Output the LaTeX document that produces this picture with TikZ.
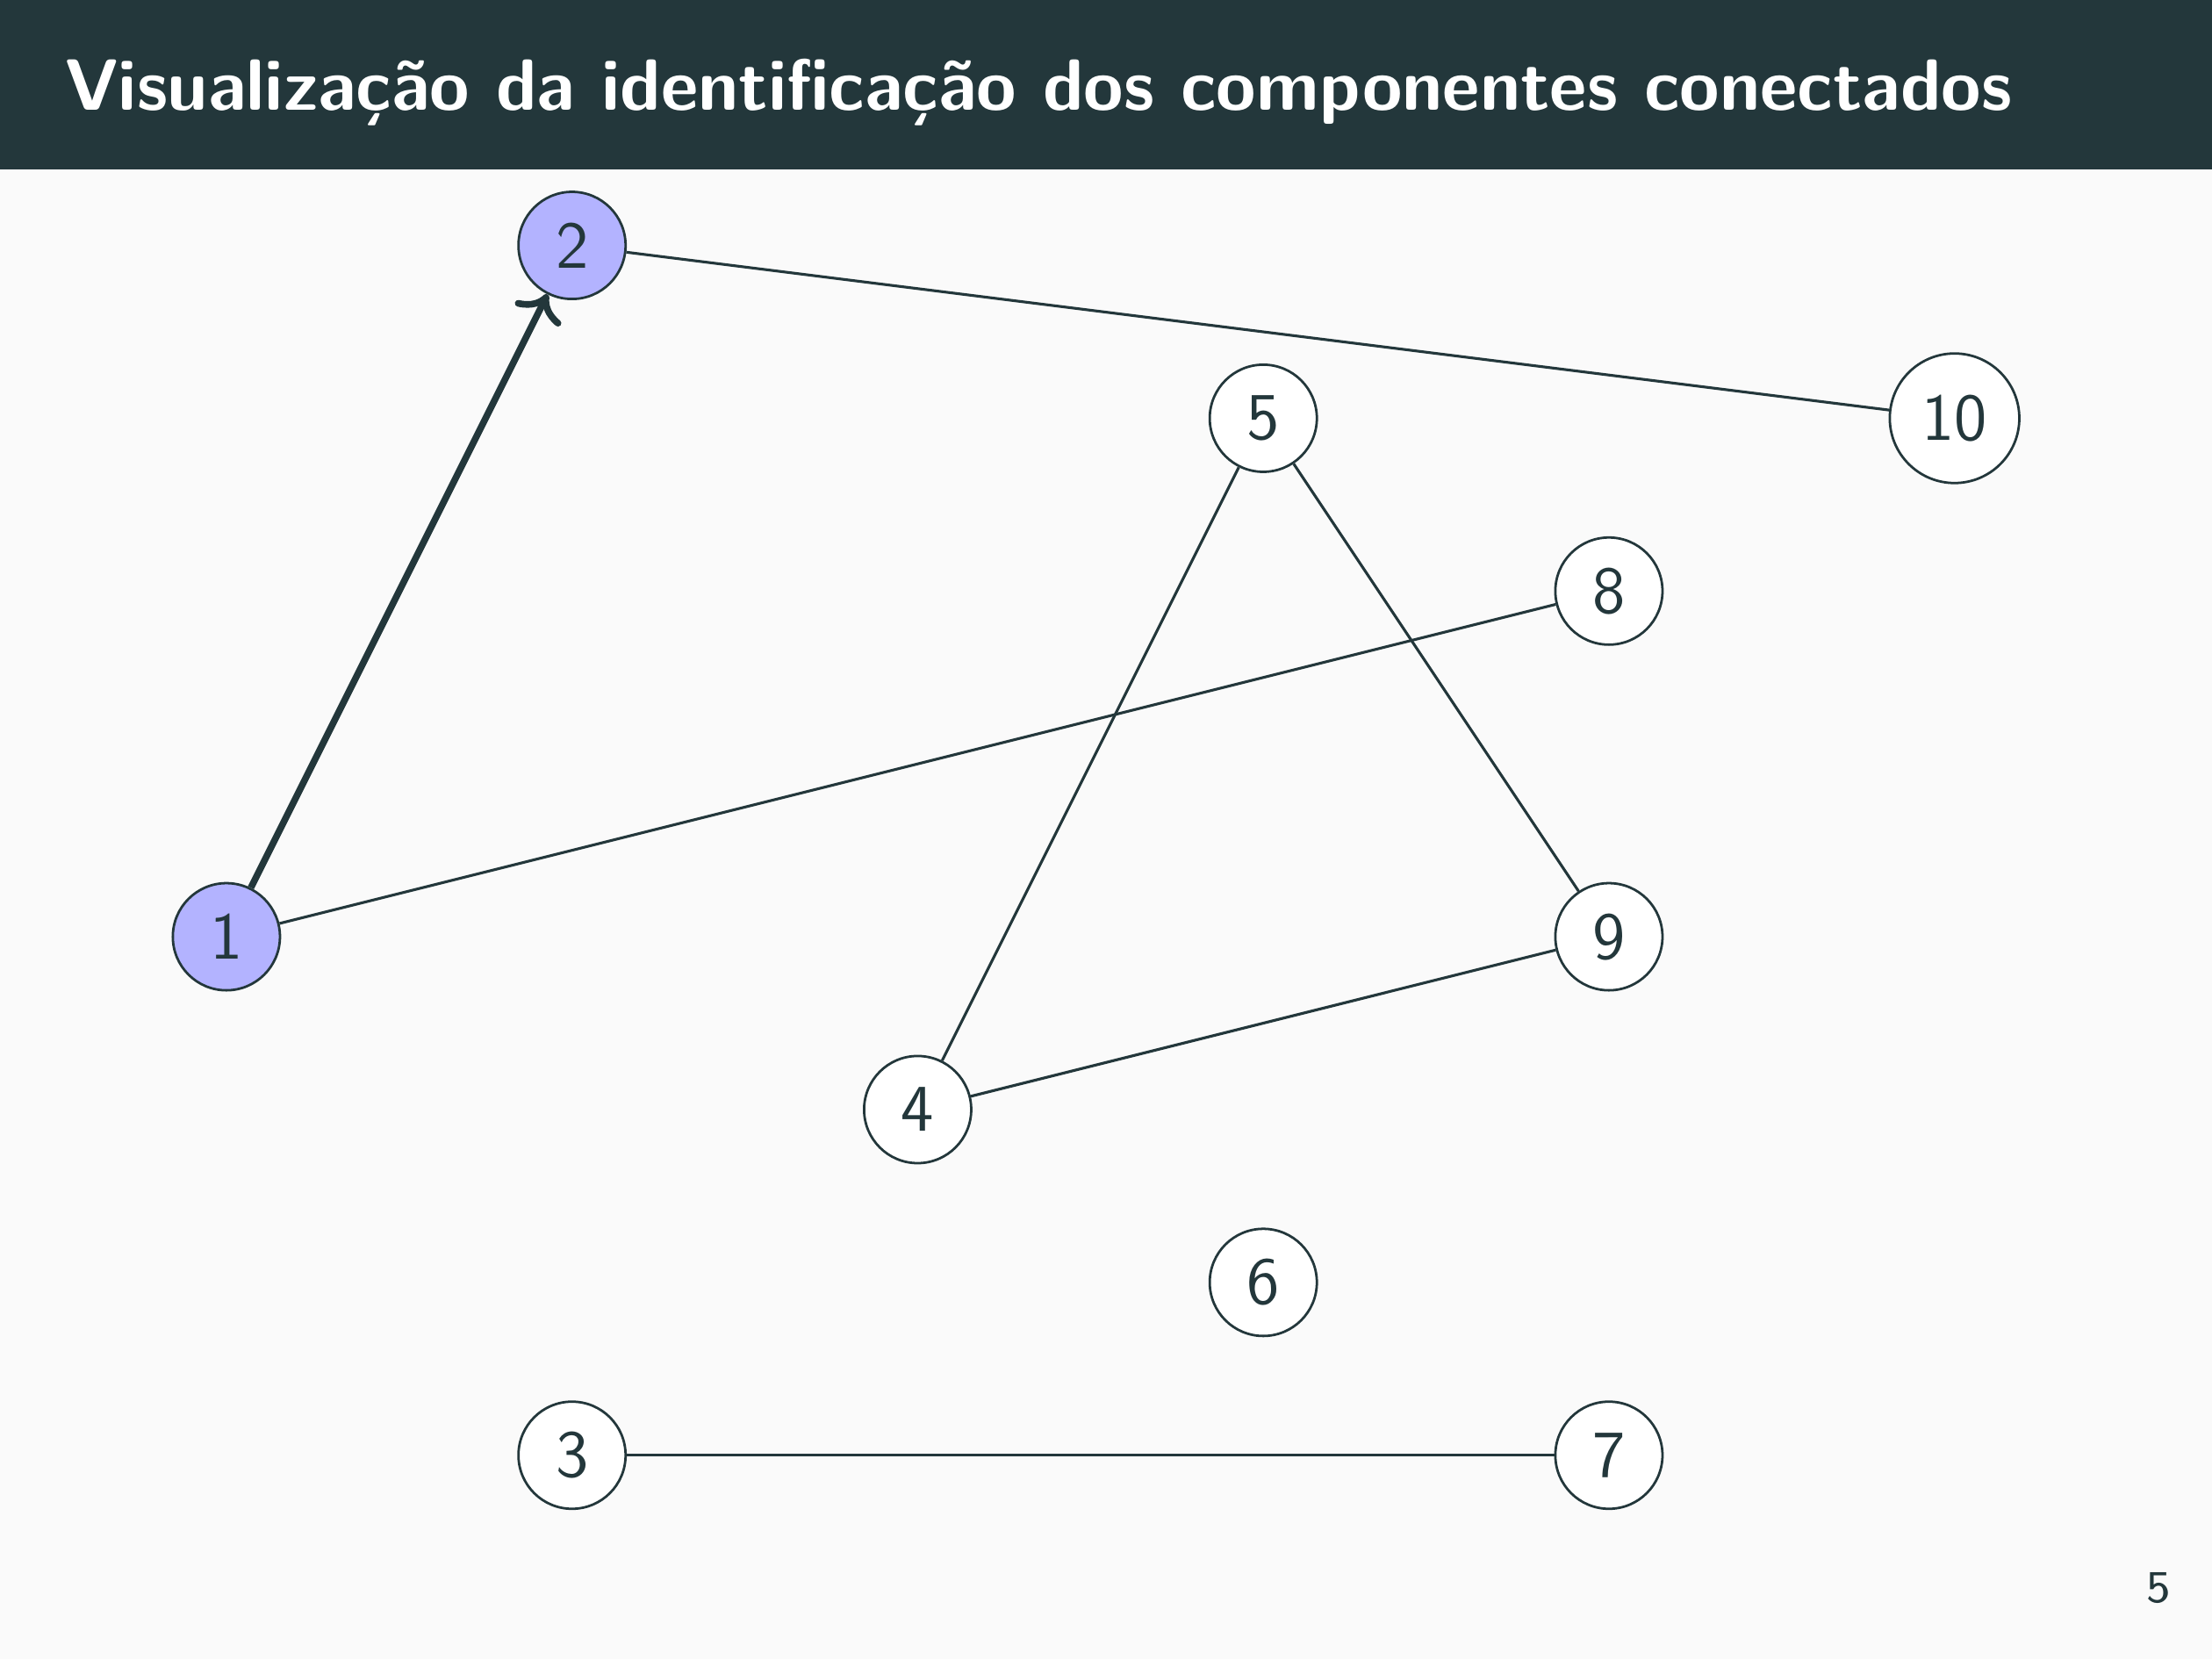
\documentclass[tikz,border=0pt]{standalone}
\usepackage{fontspec}
\usepackage{tikz}
\usetikzlibrary{arrows.meta}
\definecolor{pagebg}{HTML}{FAFAFA}
\definecolor{darkteal}{HTML}{23373B}
\definecolor{visited}{HTML}{B3B3FF}

\begin{document}
\begin{tikzpicture}[
  vtx/.style={circle,draw=darkteal,fill=white,text=darkteal,minimum size=0.62cm,inner sep=2.9pt,
    font=\sffamily\fontsize{11}{13}\selectfont},
  seen/.style={vtx,fill=visited},
  edge/.style={draw=darkteal,line width=0.45pt}]
  \fill[pagebg] (0,0) rectangle (12.8,9.6);
  \fill[darkteal] (0,8.62) rectangle (12.8,9.6);
  \useasboundingbox (0,0) rectangle (12.8,9.6);
  \node[anchor=base west,text=white,inner sep=0,font=\sffamily\bfseries\fontsize{11.95}{14}\selectfont]
    (title) at (0.37,8.965) {Visualização da identificação dos componentes conectados};
  \node[anchor=base east,text=darkteal,inner sep=0,font=\sffamily\fontsize{7.5}{9}\selectfont]
    (pageno) at (12.57,0.33) {5};
  % grid of vertices
  \begin{scope}[shift={(1.31,4.18)},x=2cm,y=1cm]
    \node[seen] (v1) at (0,0) {1};
    \node[seen] (v2) at (1,4) {2};
    \foreach \n/\x/\y in {3/1/-3,4/2/-1,5/3/3,6/3/-2,7/4/-3,8/4/2,9/4/0,10/5/3}
      \node[vtx] (v\n) at (\x,\y) {\n};
  \end{scope}
  \foreach \a/\b in {2/10,1/8,5/4,5/9,4/9,3/7}
    \draw[edge] (v\a) -- (v\b);
  \draw[darkteal,line width=1.1pt,->] (v1) -- (v2);
\end{tikzpicture}
\end{document}
